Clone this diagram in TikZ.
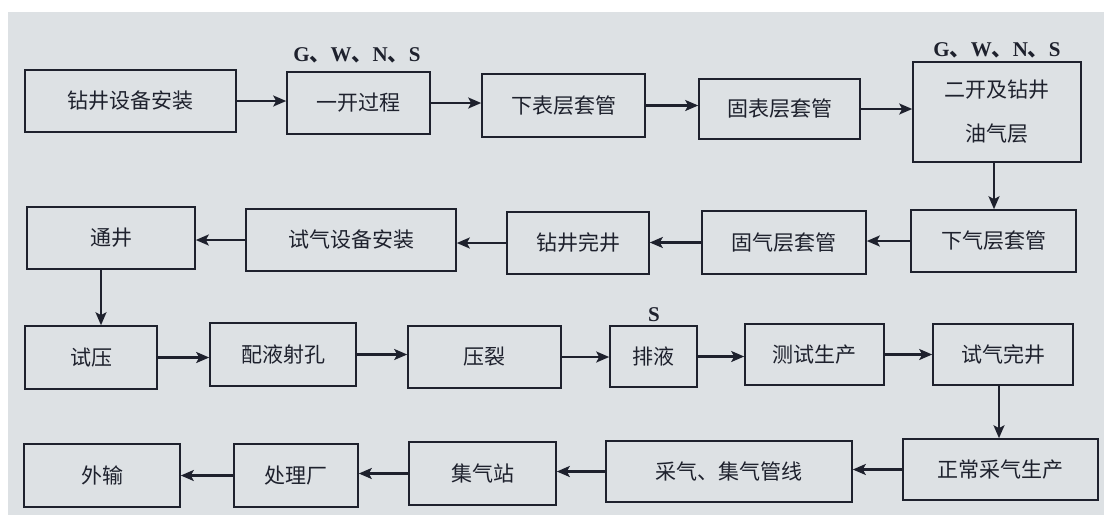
\documentclass[tikz,border=0pt]{standalone}
\usepackage{fontspec}
\newfontfamily\cjk{Noto Sans CJK SC}
\newfontfamily\lserif{Liberation Serif}
\usetikzlibrary{arrows.meta}
\definecolor{paper}{RGB}{221,225,228}
\definecolor{ink}{RGB}{30,33,45}
\tikzset{
  box/.style={draw=ink, line width=1.6pt, inner sep=0pt, text=ink,
    font=\cjk\fontsize{21}{44}\selectfont, align=center},
  arr/.style={draw=ink, line width=2.2pt, -{Stealth[length=13pt,width=11pt,inset=3pt]}},
  lbl/.style={text=ink, inner sep=0pt, font=\lserif\bfseries\fontsize{21}{24}\selectfont}
}
\newcommand{\gwns}{G{\cjk 、}W{\cjk 、}N{\cjk 、}S}
\begin{document}
\begin{tikzpicture}[x=1pt,y=-1pt]
\useasboundingbox (0,0) rectangle (1104,515);
\fill[white] (0,0) rectangle (1104,515);
\fill[paper] (8,12) rectangle (1104,515);
% row 1
\node[box, minimum width=211pt, minimum height=62pt] (a1) at (130.5,101) {钻井设备安装};
\node[box, minimum width=143pt, minimum height=62pt] (a2) at (358.5,103) {一开过程};
\node[box, minimum width=163pt, minimum height=63pt] (a3) at (563.5,105.5) {下表层套管};
\node[box, minimum width=161pt, minimum height=60pt] (a4) at (779.5,109) {固表层套管};
\node[box, minimum width=168pt, minimum height=100pt] (a5) at (997,112) {二开及钻井\\油气层};
% row 2
\node[box, minimum width=165pt, minimum height=62pt] (b1) at (993.5,241) {下气层套管};
\node[box, minimum width=164pt, minimum height=63pt] (b2) at (784,242.5) {固气层套管};
\node[box, minimum width=142pt, minimum height=62pt] (b3) at (578,243) {钻井完井};
\node[box, minimum width=210pt, minimum height=62pt] (b4) at (351,240) {试气设备安装};
\node[box, minimum width=168pt, minimum height=62pt] (b5) at (111,238) {通井};
% row 3
\node[box, minimum width=132pt, minimum height=63pt] (c1) at (91,357.5) {试压};
\node[box, minimum width=146pt, minimum height=63pt] (c2) at (283,354.5) {配液射孔};
\node[box, minimum width=153pt, minimum height=62pt] (c3) at (484.5,357) {压裂};
\node[box, minimum width=87pt, minimum height=61pt] (c4) at (653.5,356.5) {排液};
\node[box, minimum width=139pt, minimum height=61pt] (c5) at (814.5,354.5) {测试生产};
\node[box, minimum width=140pt, minimum height=61pt] (c6) at (1003,354.5) {试气完井};
% row 4
\node[box, minimum width=195pt, minimum height=61pt] (d1) at (1000.5,469.5) {正常采气生产};
\node[box, minimum width=246pt, minimum height=61pt] (d2) at (729,471.5) {采气、集气管线};
\node[box, minimum width=147pt, minimum height=63pt] (d3) at (482.5,473.5) {集气站};
\node[box, minimum width=124pt, minimum height=63pt] (d4) at (296,475.5) {处理厂};
\node[box, minimum width=156pt, minimum height=63pt] (d5) at (102,475.5) {外输};
% labels
\node[lbl] (l1) at (357,55) {\gwns};
\node[lbl] (l2) at (997,50) {\gwns};
\node[lbl] (l3) at (654,315) {S};
% arrows row 1
\draw[arr] (a1.east) -- (a1.east -| a2.west);
\draw[arr] (a2.east) -- (a2.east -| a3.west);
\draw[arr] (a3.east) -- (a3.east -| a4.west);
\draw[arr] (a4.east) -- (a4.east -| a5.west);
\draw[arr] ([xshift=-3pt]a5.south) -- ([xshift=-3pt]a5.south |- b1.north);
% row 2
\draw[arr] (b1.west) -- (b1.west -| b2.east);
\draw[arr] (b2.west) -- (b2.west -| b3.east);
\draw[arr] (b3.west) -- (b3.west -| b4.east);
\draw[arr] (b4.west) -- (b4.west -| b5.east);
\draw[arr] ([xshift=-10pt]b5.south) -- ([xshift=-10pt]b5.south |- c1.north);
% row 3
\draw[arr] (c1.east) -- (c1.east -| c2.west);
\draw[arr] (c2.east) -- (c2.east -| c3.west);
\draw[arr] (c3.east) -- (c3.east -| c4.west);
\draw[arr] (c4.east) -- (c4.east -| c5.west);
\draw[arr] (c5.east) -- (c5.east -| c6.west);
\draw[arr] ([xshift=-4pt]c6.south) -- ([xshift=-4pt]c6.south |- d1.north);
% row 4
\draw[arr] (d1.west) -- (d1.west -| d2.east);
\draw[arr] (d2.west) -- (d2.west -| d3.east);
\draw[arr] (d3.west) -- (d3.west -| d4.east);
\draw[arr] (d4.west) -- (d4.west -| d5.east);
\end{tikzpicture}
\end{document}
